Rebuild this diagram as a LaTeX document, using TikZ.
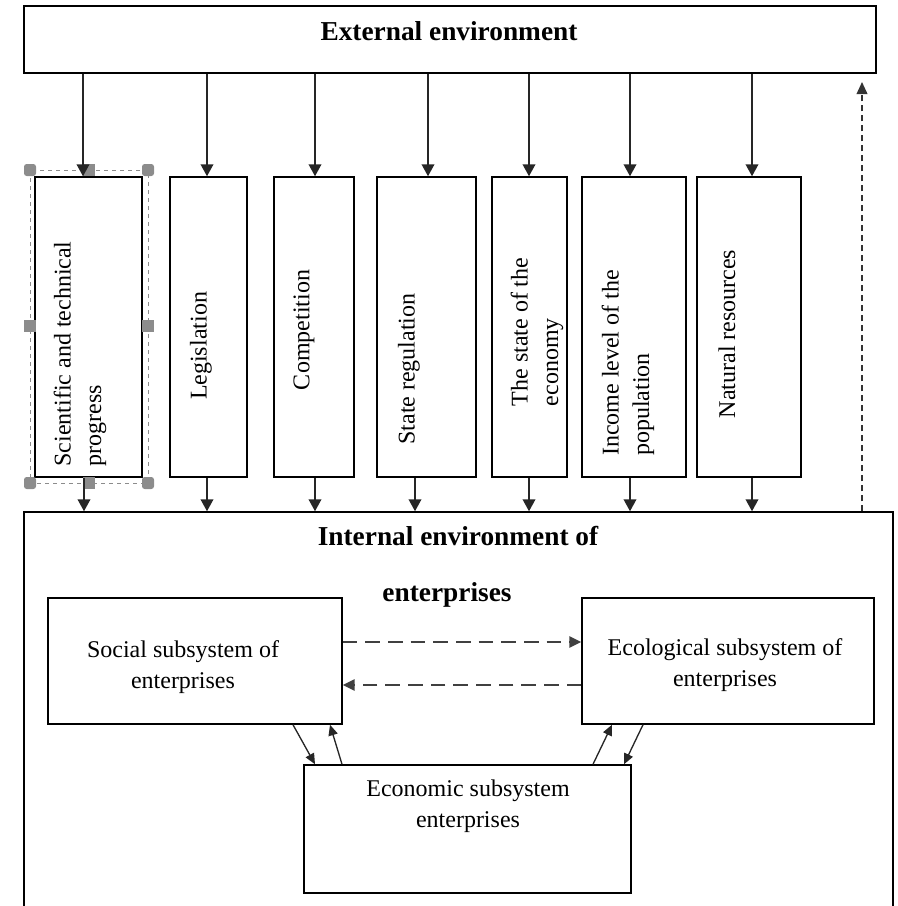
\documentclass[tikz,border=0pt]{standalone}
\usepackage{fontspec}
\setmainfont{Liberation Serif}
\usetikzlibrary{arrows.meta,fit}

\begin{document}
\begin{tikzpicture}[x=0.75pt,y=0.75pt,
  box/.style={draw=black,line width=1.1pt,inner sep=0pt},
  lbl/.style={inner sep=0pt,align=left,font=\fontsize{18}{23}\selectfont},
  ttl/.style={inner sep=0pt,font=\fontsize{20.5}{24}\selectfont\bfseries},
  arr/.style={draw=black!85,line width=1.3pt,-{Triangle[length=9pt,width=9.5pt]}},
  slim/.style={draw=black!85,line width=1pt,-{Triangle[length=8pt,width=7pt]}},
  longdash/.style={slim,line width=1.5pt,draw=black!75,dash pattern=on 11pt off 6pt,-{Triangle[length=9pt,width=8.5pt]}},
  shortdash/.style={slim,line width=1.2pt,draw=black!80,dash pattern=on 4.5pt off 3pt,-{Triangle[length=9pt,width=8pt]}},
  handle/.style={fill=black!45}]
\useasboundingbox (0,0) rectangle (897,-906);

% outer boxes
\node [box, fit={(24,-6) (876,-73)}] (ext) {};
\node [ttl] (extT) at (449,-31) {External environment};
\node [box, fit={(24,-512) (893,-912)}] (int) {};
\node [ttl] (intT) at (458,-536) {Internal environment of};
\node [ttl] (intT2) at (447,-595) {enterprises};

% factors of the external environment
\node [box, fit={(35,-177) (142,-477)}] (sci) {};
\node [box, fit={(170,-177) (247,-477)}] (law) {};
\node [box, fit={(274,-177) (354,-477)}] (comp) {};
\node [box, fit={(377,-177) (476,-477)}] (reg) {};
\node [box, fit={(492,-177) (567,-477)}] (econy) {};
\node [box, fit={(582,-177) (686,-477)}] (inc) {};
\node [box, fit={(697,-177) (801,-477)}] (nat) {};
\node [lbl, rotate=90] (sciT) at (80,-354) {Scientific and technical\\progress};
\node [lbl, rotate=90] (lawT) at (201,-346) {Legislation};
\node [lbl, rotate=90] (compT) at (304,-330) {Competition};
\node [lbl, rotate=90] (regT) at (409,-369) {State regulation};
\node [lbl, rotate=90] (econyT) at (537,-332) {The state of the\\economy};
\node [lbl, rotate=90] (incT) at (628,-363) {Income level of the\\population};
\node [lbl, rotate=90] (natT) at (727,-334) {Natural resources};

% selection frame round the first box
\draw [black!45, dashed, line width=0.6pt] (30,-170) rectangle (148,-483);
\foreach \x/\y in {30/-170,148/-170,30/-483,148/-483}
  \fill [handle, rounded corners=2pt] (\x-6,\y-6) rectangle (\x+6,\y+6);
\foreach \x/\y in {89/-170,89/-483,30/-326,148/-326}
  \fill [handle] (\x-6,\y-6) rectangle (\x+6,\y+6);

% subsystems
\node [box, fit={(48,-598) (342,-724)}] (soc) {};
\node [box, fit={(582,-598) (874,-724)}] (ecol) {};
\node [box, fit={(304,-765) (631,-893)}] (econ) {};
\node [lbl, align=center] (socT) at (183,-667) {Social subsystem of\\enterprises};
\node [lbl, align=center] (ecolT) at (725,-665) {Ecological subsystem of\\enterprises};
\node [lbl, align=center] (econT) at (468,-806) {Economic subsystem\\enterprises};

% arrows down from the external environment
\draw [arr] (ext.south -| 83,0) -- (sci.north -| 83,0);
\draw [arr] (ext.south -| 207,0) -- (law.north -| 207,0);
\draw [arr] (ext.south -| 315,0) -- (comp.north -| 315,0);
\draw [arr] (ext.south -| 428,0) -- (reg.north -| 428,0);
\draw [arr] (ext.south -| 529,0) -- (econy.north -| 529,0);
\draw [arr] (ext.south -| 630,0) -- (inc.north -| 630,0);
\draw [arr] (ext.south -| 752,0) -- (nat.north -| 752,0);

% arrows down to the internal environment
\draw [arr] (sci.south -| 84,0) -- (int.north -| 84,0);
\draw [arr] (law.south -| 207,0) -- (int.north -| 207,0);
\draw [arr] (comp.south -| 315,0) -- (int.north -| 315,0);
\draw [arr] (reg.south -| 415,0) -- (int.north -| 415,0);
\draw [arr] (econy.south -| 529,0) -- (int.north -| 529,0);
\draw [arr] (inc.south -| 630,0) -- (int.north -| 630,0);
\draw [arr] (nat.south -| 752,0) -- (int.north -| 752,0);

% feedback
\coordinate (up) at (862,-82);
\draw [shortdash] (int.north -| 862,0) -- (up);

% links between subsystems
\draw [longdash] (soc.east |- 0,-642) -- (ecol.west |- 0,-642);
\draw [longdash] (ecol.west |- 0,-685) -- (soc.east |- 0,-685);
\draw [slim] (soc.south -| 293,0) -- (econ.north -| 315,0);
\draw [slim] (econ.north -| 342,0) -- (soc.south -| 330,0);
\draw [slim] (econ.north -| 593,0) -- (ecol.south -| 612,0);
\draw [slim] (ecol.south -| 643,0) -- (econ.north -| 624,0);

\end{tikzpicture}
\end{document}
